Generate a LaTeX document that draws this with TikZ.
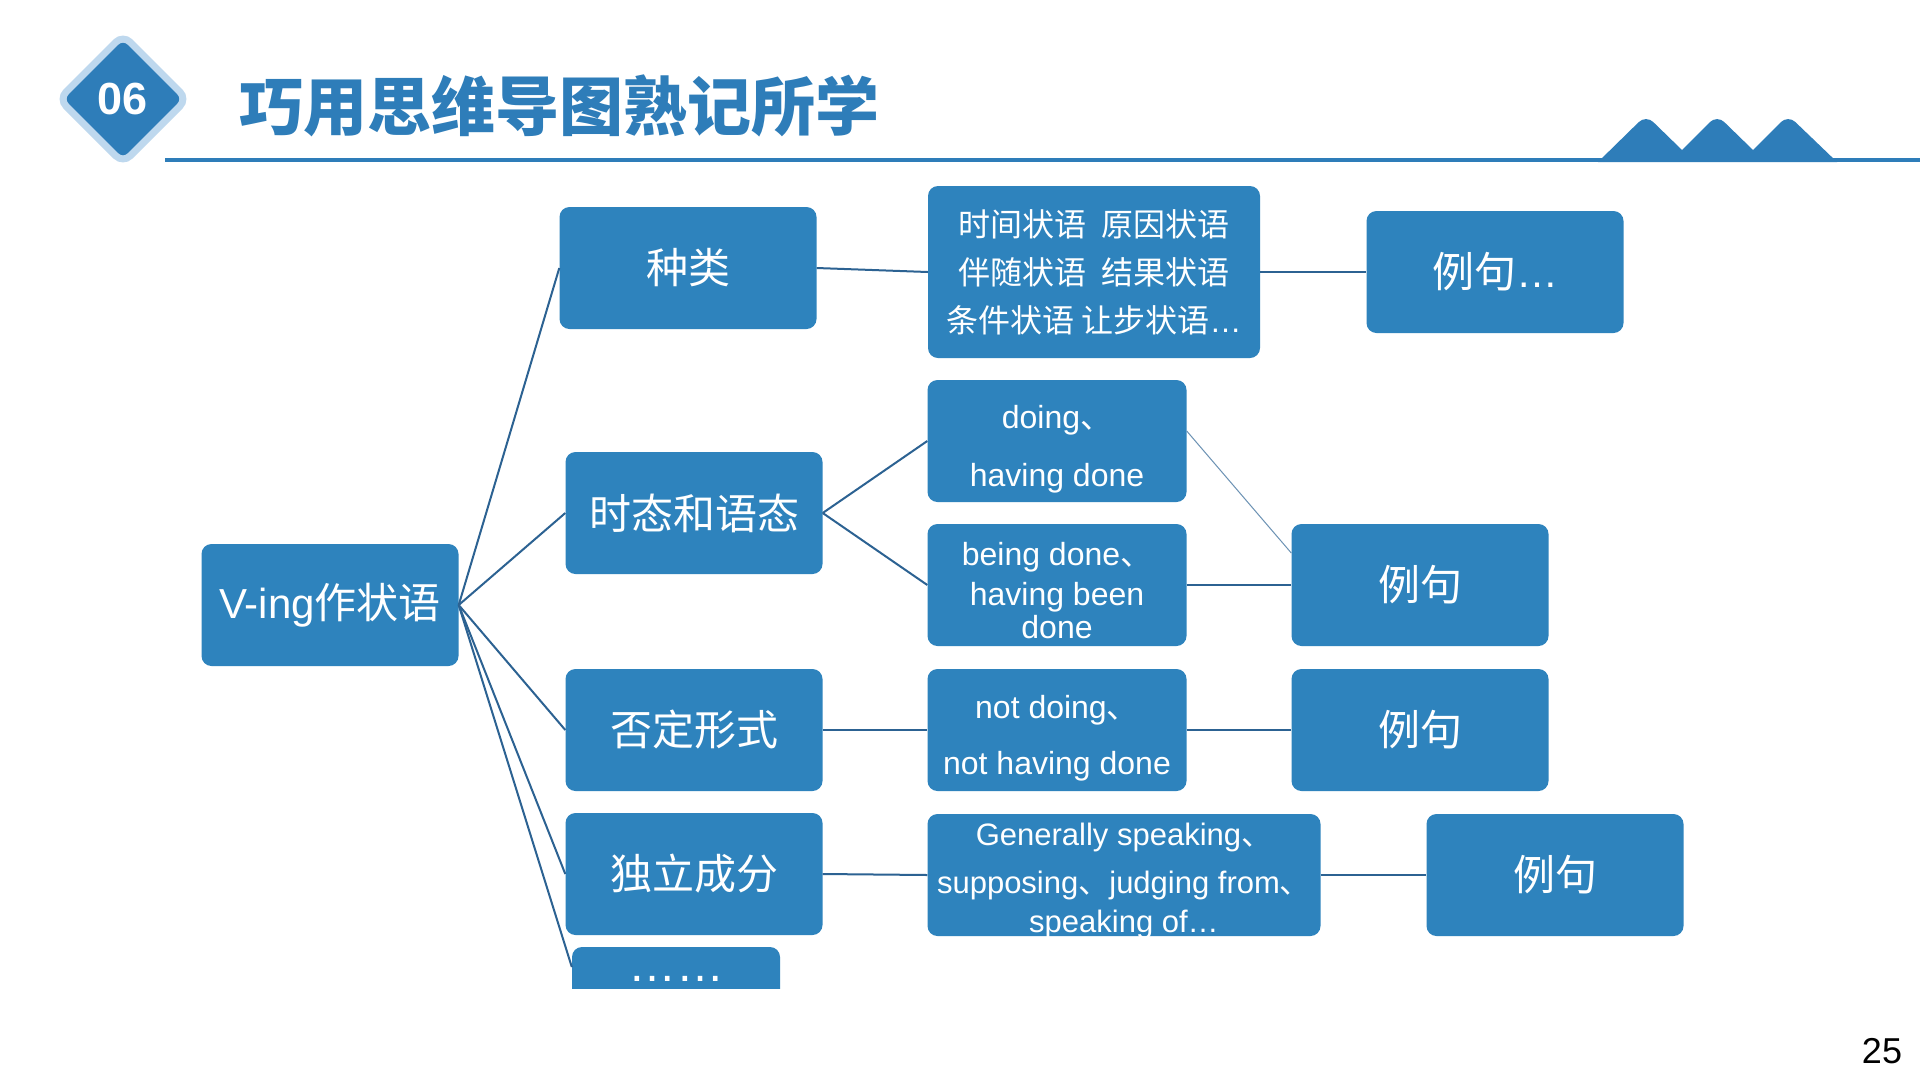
\documentclass[tikz,border=0pt]{standalone}
\usepackage{fontspec}
\setmainfont{Liberation Sans}
\newfontfamily\cjk{Noto Sans CJK SC}
\usetikzlibrary{shapes.geometric}

\definecolor{boxblue}{RGB}{46,131,189}
\definecolor{linkblue}{RGB}{44,98,146}
\definecolor{titleblue}{RGB}{46,125,185}
\definecolor{paleblue}{RGB}{190,216,238}

\newcommand{\fsBig}{\fontsize{42}{50}\selectfont}
\newcommand{\fsMid}{\fontsize{32}{38}\selectfont}
\newcommand{\lowstrut}[1]{\rule{0pt}{#1pt}}

\tikzset{
  box/.style={fill=boxblue, rounded corners=10pt, text=white, inner sep=0pt,
    minimum width=257pt, minimum height=122pt, align=center, font=\fsBig},
  smallbox/.style={box, font=\fsMid},
  link/.style={draw=linkblue, line width=2pt},
  faintlink/.style={draw=linkblue!70, line width=1pt},
}

\begin{document}
\begin{tikzpicture}[x=1pt, y=-1pt]
    \useasboundingbox[fill=white] (0,0) rectangle (1920,1080);

    % header
    \node[diamond, fill=titleblue, draw=paleblue, line width=7pt, minimum width=131pt,
          minimum height=131pt, inner sep=0pt, rounded corners=10pt, text=white,
          font=\bfseries\fontsize{45}{45}\selectfont] (badge) at (123,99) {06};
    \node[anchor=west, inner sep=0pt, text=titleblue,
          font=\cjk\bfseries\fontsize{64}{64}\selectfont] (title) at (239,106) {巧用思维导图熟记所学};
    \draw[titleblue, line width=4pt] (165,160) -- (1920,160);
    \fill[titleblue] (1598,162) [rounded corners=10pt] -- (1646,115) [sharp corners] -- (1682,150)
        [rounded corners=10pt] -- (1717,115) [sharp corners] -- (1753,150)
        [rounded corners=10pt] -- (1788,115) [sharp corners] -- (1837,162) -- cycle;

    % root and first level
    \node[box] (root) at (330,605) {V-ing{\cjk 作状语}};
    \node[box] (kind) at (688,268) {\cjk 种类};
    \node[box] (tense) at (694,513) {\cjk 时态和语态};
    \node[box] (neg) at (694,730) {\cjk 否定形式};
    \node[box] (indep) at (694,874) {\cjk 独立成分};
    \begin{scope}
        \clip (0,0) rectangle (1920,988);
        \node[box, minimum width=208pt, minimum height=80pt] (more) at (676,987) {};
    \end{scope}
    \node[anchor=base, text=white, inner sep=0pt, font=\fontsize{48}{48}\selectfont] (moredots) at (676,981) {……};

    % second level
    \node[smallbox, minimum width=332pt, minimum height=172pt] (kinds) at (1094,272)
        {{\cjk 时间状语\hspace{16pt}原因状语}\\[10pt]{\cjk 伴随状语\hspace{16pt}结果状语}\\[10pt]{\cjk 条件状语 让步状语}…};
    \node[smallbox, minimum width=259pt] (active) at (1057,441) {\lowstrut{40}doing{\cjk 、}\\[20pt]having done};
    \node[smallbox, minimum width=259pt] (passive) at (1057,585) {\lowstrut{34}being done{\cjk 、}\\[2pt]having been\\[-5pt]done};
    \node[smallbox, minimum width=259pt] (negform) at (1057,730) {\lowstrut{40}not doing{\cjk 、}\\[18pt]not having done};
    \node[smallbox, minimum width=393pt, inner ysep=-6pt, font=\fontsize{31}{38}\selectfont] (phrases) at (1124,875)
        {\lowstrut{34}Generally speaking{\cjk 、}\\[10pt]supposing{\cjk 、}judging from{\cjk 、}\\[1pt]speaking of…};

    % examples
    \node[box] (kindex) at (1495,272) {{\cjk 例句}…};
    \node[box] (tenseex) at (1420,585) {\cjk 例句};
    \node[box] (negex) at (1420,730) {\cjk 例句};
    \node[box] (indepex) at (1555,875) {\cjk 例句};

    \node[font=\fontsize{36}{36}\selectfont] (page) at (1882,1051) {25};

    % connectors
    \draw[link] (root.east) -- (kind.west);
    \draw[link] (root.east) -- (tense.west);
    \draw[link] (root.east) -- (neg.west);
    \draw[link] (root.east) -- (indep.west);
    \draw[link] (root.east) -- ([yshift=20pt]more.west);
    \draw[link] (kind.east) -- (kinds.west);
    \draw[link] (kinds.east) -- (kindex.west);
    \draw[link] (tense.east) -- (active.west);
    \draw[link] (tense.east) -- (passive.west);
    \draw[faintlink] ([yshift=10pt]active.east) -- ([yshift=32pt]tenseex.west);
    \draw[link] (passive.east) -- (tenseex.west);
    \draw[link] (neg.east) -- (negform.west);
    \draw[link] (negform.east) -- (negex.west);
    \draw[link] (indep.east) -- (phrases.west);
    \draw[link] (phrases.east) -- (indepex.west);
\end{tikzpicture}
\end{document}
